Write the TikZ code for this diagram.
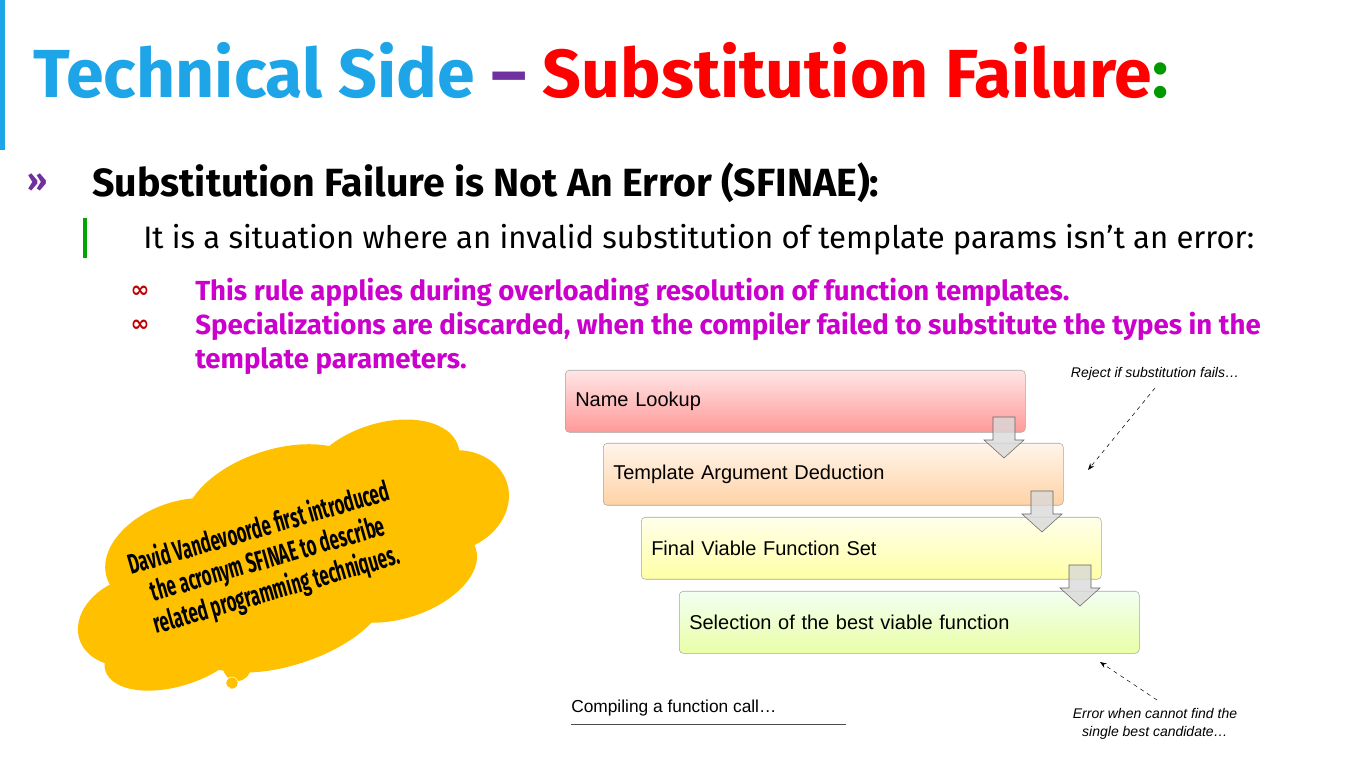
\documentclass[tikz,border=0pt]{standalone}
\usepackage{fontspec}
\setmainfont{Fira Sans}
\newfontfamily\arialf{Liberation Sans}
\newfontfamily\narrowf[FakeStretch=0.6]{Fira Sans}
\newfontfamily\symf{DejaVu Sans}
\usetikzlibrary{positioning,arrows.meta}
\definecolor{cyantitle}{HTML}{1EA5E8}
\definecolor{purpdash}{HTML}{7030A0}
\definecolor{magtext}{HTML}{CC00CC}
\definecolor{cloudy}{HTML}{FFC000}
\tikzset{
  stepbox/.style={draw=black!35, rounded corners=3pt, minimum width=345pt, minimum height=46.5pt,
    text width=330pt, align=left, font=\arialf\fontsize{15}{18}\selectfont, inner sep=6pt},
  downarrow/.style={draw=black!60, fill=black!15, fill opacity=0.8},
  note/.style={font=\arialf\itshape\fontsize{10.5}{14}\selectfont, align=center},
  hint/.style={dashed, -{Stealth[length=5pt]}, thin},
  infbullet/.style={font=\symf\bfseries\fontsize{17}{18}\selectfont, text=red!75!black, inner sep=0}
}
\begin{document}
\begin{tikzpicture}[x=0.75pt,y=-0.75pt]
  \useasboundingbox (0,0) rectangle (1365,766);
  % title
  \fill[cyantitle] (0,0) rectangle (5,150);
  \node[anchor=base west, inner sep=0, font=\bfseries\fontsize{51}{55}\selectfont] (title) at (33,98)
    {\textcolor{cyantitle}{Technical Side} \textcolor{purpdash}{–} \textcolor{red}{Substitution Failure}\textcolor{green!60!black}{:}};
  % bullets
  \node[font=\bfseries\fontsize{24}{28}\selectfont, text=purpdash, inner sep=0] (b0) at (37,183) {»};
  \node[anchor=west, inner sep=0, font=\bfseries\fontsize{29.5}{34}\selectfont] (head) at (92,183)
    {Substitution Failure is Not An Error (SFINAE):};
  \fill[green!65!black] (83,218) rectangle (87,258);
  \node[anchor=west, inner sep=0, font=\fontsize{23.3}{27}\selectfont] (sit) at (143,240)
    {It is a situation where an invalid substitution of template params isn’t an error:};
  \node[infbullet] (i1) at (140,292) {∞};
  \node[infbullet] (i2) at (140,326) {∞};
  \node[anchor=west, inner sep=0, text=magtext, font=\bfseries\fontsize{20.7}{25.5}\selectfont] (r1) at (195,292)
    {This rule applies during overloading resolution of function templates.};
  \node[anchor=north west, inner sep=0, text=magtext, align=left, font=\bfseries\fontsize{20.7}{25.5}\selectfont] (r2) at (195,312)
    {Specializations are discarded, when the compiler failed to substitute the types in the\\template parameters.};
  % flow boxes
  \node[stepbox, top color=red!10, bottom color=red!40, anchor=north west] (lookup) at (565,370) {Name Lookup};
  \node[stepbox, top color=orange!8, bottom color=orange!35, anchor=north west] (deduct) at (603,443) {Template Argument Deduction};
  \node[stepbox, top color=yellow!8, bottom color=yellow!35, anchor=north west] (viable) at (641,517) {Final Viable Function Set};
  \node[stepbox, top color=green!5, bottom color=lime!35, anchor=north west] (best) at (679,591) {Selection of the best viable function};
  \foreach \dx/\dy in {0/0, 38/74, 76/148}
    \draw[downarrow] (993+\dx,417+\dy) -- (1015+\dx,417+\dy) -- (1015+\dx,440+\dy) -- (1024+\dx,440+\dy)
      -- (1004+\dx,458+\dy) -- (984+\dx,440+\dy) -- (993+\dx,440+\dy) -- cycle;
  % notes
  \node[note] (reject) at (1155,374) {Reject if substitution fails…};
  \coordinate (rejtip) at (1088,470);
  \draw[hint] (1155,388) -- (rejtip);
  \node[note] (errnote) at (1155,724) {Error when cannot find the\\single best candidate…};
  \coordinate (errtip) at (1100,662);
  \draw[hint] (1157,700) -- (errtip);
  \node[anchor=west, inner sep=0, font=\arialf\fontsize{13}{16}\selectfont] (compile) at (571,708) {Compiling a function call…};
  \draw[black!70] (571,724) -- (846,724);
  % thought cloud
  \begin{scope}[shift={(285,560)}, rotate=18]
    \fill[cloudy] (0,0) ellipse [x radius=170, y radius=72];
    \foreach \cx/\cy/\rx/\ry in {-160/12/60/44, -95/-38/80/52, 10/-58/95/52, 120/-55/80/47,
      175/-5/60/50, 105/48/80/45, -15/58/100/45, -130/50/75/38}
      \fill[cloudy] (\cx,\cy) ellipse [x radius=\rx, y radius=\ry];
  \end{scope}
  \fill[cloudy] (237,667) circle (14);
  \draw[white, fill=cloudy] (232,683) circle (6);
  \draw[white] (227,690) circle (3.5);
  \node[rotate=16, align=center, font=\narrowf\bfseries\fontsize{21}{24}\selectfont] (quote) at (268,560)
    {David Vandevoorde first introduced\\the acronym SFINAE to describe\\related programming techniques.};
\end{tikzpicture}
\end{document}
